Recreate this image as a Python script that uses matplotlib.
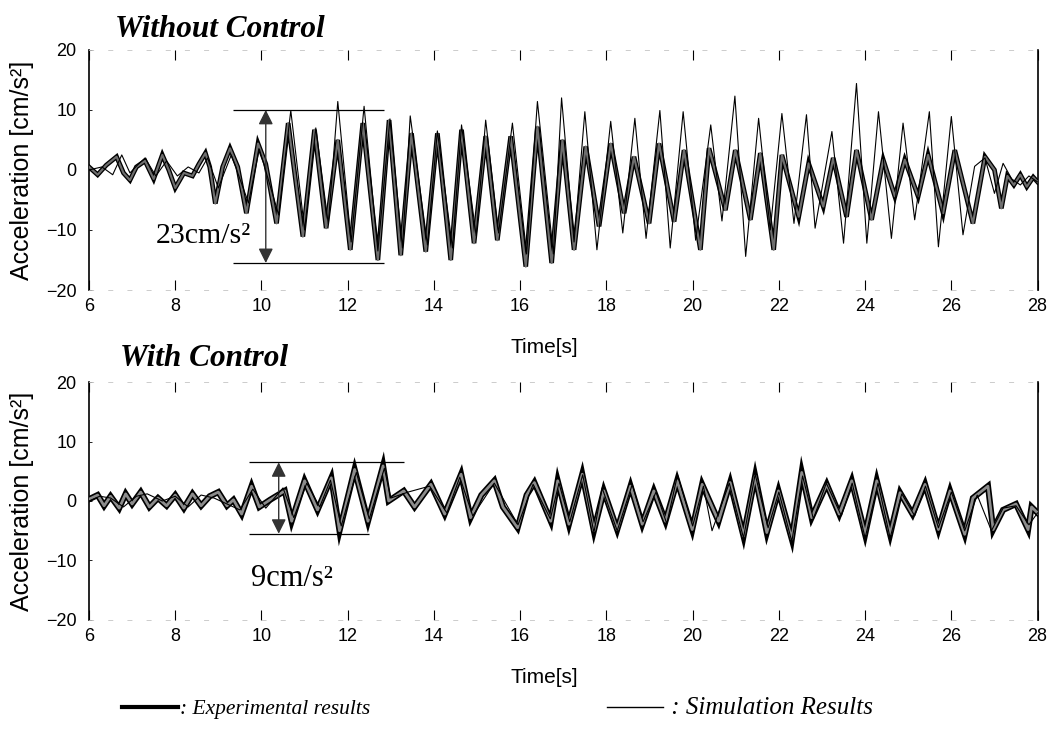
import matplotlib
matplotlib.use("Agg")
import matplotlib.pyplot as plt
from matplotlib import font_manager
from matplotlib.lines import Line2D

# valores (tiempo [s], aceleracion [cm/s^2])
t_exp_sin = [6.0, 6.2, 6.4, 6.64, 6.8, 6.95, 7.1, 7.3, 7.5, 7.7, 7.85, 8.0, 8.2, 8.4,
             8.55, 8.7, 8.8, 8.93, 9.1, 9.27, 9.45, 9.65, 9.92, 10.1, 10.35, 10.62,
             10.96, 11.23, 11.5, 11.77, 12.06, 12.35, 12.7, 12.96, 13.23, 13.48, 13.81,
             14.08, 14.39, 14.64, 14.93, 15.2, 15.47, 15.78, 16.13, 16.4, 16.73, 16.98,
             17.25, 17.52, 17.83, 18.1, 18.41, 18.64, 18.99, 19.22, 19.57, 19.8, 20.18,
             20.38, 20.76, 20.99, 21.34, 21.57, 21.88, 22.07, 22.46, 22.69, 23.03, 23.26,
             23.57, 23.8, 24.15, 24.42, 24.69, 24.92, 25.23, 25.46, 25.81, 26.08, 26.5,
             26.78, 27.0, 27.16, 27.3, 27.45, 27.6, 27.75, 27.9, 28.0]
a_exp_sin = [0.5, -0.8, 0.8, 2.2, -0.5, -1.7, 0.5, 1.5, -1.5, 2.5, 0.0, -3.0, -0.5, -1.0,
             1.0, 2.8, 0.5, -5.6, 0.5, 3.6, 0.5, -7.2, 4.4, 1.0, -8.9, 7.8,
             -11.1, 6.7, -9.7, 5.0, -13.3, 7.8, -15.0, 8.3, -14.2, 6.1, -13.6,
             6.1, -15.0, 6.7, -12.2, 5.6, -11.7, 5.6, -16.1, 7.2, -15.5, 5.0,
             -13.3, 3.9, -9.4, 4.4, -7.2, 2.2, -8.9, 4.4, -8.6, 3.3, -13.3,
             3.6, -6.7, 3.3, -8.3, 2.8, -13.3, 2.5, -7.8, 1.1, -6.1, 2.0,
             -7.8, 3.3, -8.3, 1.7, -4.4, 1.7, -4.4, 2.5, -7.2, 3.3, -8.9,
             2.2, 0.0, -6.4, -1.0, -2.5, -0.8, -2.8, -1.2, -2.0]

t_sim_sin = [6.0, 6.3, 6.55, 6.76, 6.95, 7.15, 7.3, 7.55, 7.8, 8.05, 8.3, 8.55, 8.75,
             9.0, 9.3, 9.7, 9.95, 10.4, 10.68, 11.0, 11.26, 11.55, 11.77, 12.08, 12.38,
             12.7, 12.98, 13.27, 13.45, 13.85, 14.08, 14.43, 14.64, 14.98, 15.2, 15.5,
             15.82, 16.15, 16.4, 16.77, 16.96, 17.25, 17.5, 17.78, 18.1, 18.38, 18.66,
             18.92, 19.24, 19.48, 19.78, 20.07, 20.42, 20.68, 20.98, 21.23, 21.53, 21.8,
             22.07, 22.35, 22.64, 22.84, 23.23, 23.5, 23.8, 24.04, 24.31, 24.61, 24.88,
             25.15, 25.49, 25.7, 26.0, 26.27, 26.54, 26.78, 27.0, 27.2, 27.4, 27.6,
             27.8, 28.0]
a_sim_sin = [0.0, 0.5, -0.8, 2.5, -0.5, 1.0, 2.0, -1.0, 1.5, -1.0, 0.5, -0.5, 2.0,
             -3.0, 2.5, -5.5, 3.5, -7.5, 9.9, -10.0, 7.0, -9.0, 11.4, -12.0, 10.6,
             -13.5, 8.5, -13.0, 9.0, -12.5, 6.5, -13.0, 7.5, -11.0, 8.3, -10.5,
             7.8, -14.0, 11.4, -14.0, 12.0, -12.0, 9.7, -13.3, 8.1, -10.5, 8.6,
             -11.4, 9.9, -13.0, 9.7, -11.7, 7.5, -8.5, 12.3, -14.4, 8.6, -10.0,
             9.4, -8.9, 9.2, -9.7, 6.4, -12.2, 14.4, -12.2, 9.7, -11.4, 7.8,
             -8.3, 9.7, -12.8, 8.9, -10.8, 0.6, 2.0, -3.9, 1.1, -1.5, -2.5,
             -1.0, -2.0]

t_exp_con = [6.0, 6.2, 6.35, 6.5, 6.7, 6.85, 7.0, 7.2, 7.4, 7.6, 7.8, 8.0, 8.2, 8.4,
             8.6, 8.8, 9.0, 9.2, 9.35, 9.54, 9.77, 9.95, 10.2, 10.54, 10.7, 11.0, 11.3,
             11.62, 11.81, 12.16, 12.47, 12.82, 12.95, 13.3, 13.55, 13.93, 14.25, 14.63,
             14.85, 15.1, 15.4, 15.6, 15.94, 16.15, 16.33, 16.71, 16.87, 17.13, 17.44,
             17.71, 17.94, 18.25, 18.56, 18.83, 19.1, 19.37, 19.64, 19.99, 20.22, 20.6,
             20.87, 21.18, 21.45, 21.72, 21.99, 22.3, 22.53, 22.76, 23.11, 23.4, 23.69,
             24.0, 24.27, 24.58, 24.81, 25.1, 25.39, 25.7, 25.97, 26.31, 26.5, 26.85,
             26.97, 27.2, 27.5, 27.78, 27.86, 28.0]
a_exp_con = [0.3, 1.0, -0.8, 0.8, -1.2, 1.2, -0.5, 1.5, -1.0, 0.5, -0.8, 1.0, -1.2, 1.2,
             -0.8, 0.8, 1.5, -0.8, 0.2, -2.2, 2.5, -1.0, 0.2, 1.7, -3.4, 3.4, -1.5,
             3.9, -5.0, 5.3, -3.4, 5.9, 0.0, 1.7, -1.0, 2.8, -2.2, 4.5,
             -2.8, 1.0, 3.4, -1.0, -4.5, 1.0, 3.1, -3.4, 3.4, -3.9, 4.5,
             -5.0, 1.7, -4.8, 2.5, -3.9, 1.7, -3.4, 3.4, -4.8, 2.8, -3.4,
             3.1, -5.9, 4.2, -5.3, 1.7, -6.4, 4.8, -2.8, 2.8, -2.2, 3.4,
             -5.6, 3.4, -5.6, 1.4, -2.2, 2.8, -4.8, 1.7, -5.6, 0.5, 2.5,
             -4.8, -1.5, -0.5, -4.8, -1.0, -2.0]

t_sim_con = [6.0, 6.25, 6.5, 6.8, 7.1, 7.35, 7.7, 8.0, 8.3, 8.6, 8.9, 9.2, 9.5, 9.8,
             10.1, 10.5, 10.75, 11.05, 11.35, 11.6, 11.85, 12.2, 12.5, 12.85, 13.0,
             13.4, 13.9, 14.3, 14.6, 14.9, 15.4, 15.95, 16.3, 16.7, 16.9, 17.15, 17.45,
             17.71, 17.9, 18.25, 18.6, 18.85, 19.15, 19.4, 19.65, 20.0, 20.25, 20.45,
             20.85, 21.18, 21.45, 21.75, 22.0, 22.3, 22.55, 22.8, 23.1, 23.45, 23.7,
             24.0, 24.3, 24.58, 24.85, 25.15, 25.4, 25.7, 26.0, 26.31, 26.6, 26.93,
             27.2, 27.5, 27.8, 28.0]
a_sim_con = [0.0, 0.8, 0.5, -1.0, 0.8, 1.2, 0.0, 0.8, -1.0, 1.0, 0.5, -0.5, -1.5, 2.0,
             -1.2, 2.2, -2.8, 3.0, -1.0, 3.5, -4.2, 4.8, -3.0, 5.5, 0.5,
             1.5, 2.5, -2.0, 4.0, -2.5, 3.0, -4.0, 2.8, -3.0, 3.0, -3.5, 4.4,
             -5.3, 2.2, -5.0, 2.8, -3.5, 1.5, -3.8, 4.4, -4.2, 2.5, -5.0,
             3.0, -6.2, 4.5, -4.5, 1.5, -6.8, 4.2, -3.0, 3.0, -2.5, 3.0,
             -6.2, 3.0, -6.2, 1.2, -2.5, 2.5, -4.5, 1.5, -5.0, 1.0, -5.0,
             -1.2, -0.8, -4.0, -2.0]

xticks = [6, 8, 10, 12, 14, 16, 18, 20, 22, 24, 26, 28]
yticks = [-20, -10, 0, 10, 20]

nombres = {f.name for f in font_manager.fontManager.ttflist}
fuente_tick = "Liberation Sans Narrow" if "Liberation Sans Narrow" in nombres else "Liberation Sans"
serif = "Liberation Serif"


def configurarEje(ax):
    ax.set_xlim(6, 28)
    ax.set_ylim(-20, 20)
    ax.set_xticks(xticks)
    ax.set_yticks(yticks)
    ax.tick_params(axis="x", direction="in", length=7, width=0.8, top=True,
                   pad=6, labelsize=13)
    ax.tick_params(axis="y", direction="in", length=2, width=0.6, pad=9,
                   labelsize=13)
    for lab in ax.get_xticklabels() + ax.get_yticklabels():
        lab.set_family(fuente_tick)
    ax.spines["left"].set_linewidth(1.2)
    ax.spines["right"].set_linewidth(1.2)
    for s in ["top", "bottom"]:
        ax.spines[s].set_linestyle((0, (5, 18)))
        ax.spines[s].set_color("#c4c4c4")
        ax.spines[s].set_linewidth(0.6)
    ax.set_xlabel("Time[s]", fontsize=15, family="Liberation Sans")
    ax.xaxis.set_label_coords(0.48, -0.2)
    ax.set_ylabel("Acceleration [cm/s²]", fontsize=18, family="Liberation Sans")
    ax.yaxis.set_label_coords(-0.058, 0.5)


def graficarSerie(ax, t_exp, a_exp, t_sim, a_sim, gris, grosor):
    ax.plot(t_exp, a_exp, color="black", lw=grosor, solid_joinstyle="miter", zorder=2)
    ax.plot(t_exp, a_exp, color=gris, lw=grosor * 0.45, zorder=3)
    ax.plot(t_sim, a_sim, color="black", lw=0.8, zorder=4)


fig = plt.figure(figsize=(10.47, 7.30), dpi=100)
ax1 = fig.add_axes([0.085, 0.6027, 0.906, 0.329])
ax2 = fig.add_axes([0.085, 0.1507, 0.906, 0.326])

graficarSerie(ax1, t_exp_sin, a_exp_sin, t_sim_sin, a_sim_sin, "#6e6e6e", 3.4)
graficarSerie(ax2, t_exp_con, a_exp_con, t_sim_con, a_sim_con, "#8c8c8c", 4.4)
configurarEje(ax1)
configurarEje(ax2)

ax1.text(0.027, 1.083, "Without Control", transform=ax1.transAxes, fontsize=22.5,
         family=serif, style="italic", weight="bold", va="center")
ax2.text(0.033, 1.10, "With Control", transform=ax2.transAxes, fontsize=22.5,
         family=serif, style="italic", weight="bold", va="center")

# rango pico a pico
ax1.hlines([10, -15.5], [9.35, 9.35], [12.85, 12.85], color="black", lw=0.9)
ax1.annotate("", xy=(10.1, 10), xytext=(10.1, -15.5),
             arrowprops=dict(arrowstyle="<|-|>", color="#333333", lw=1.0,
                             mutation_scale=22, shrinkA=0, shrinkB=0))
ax1.text(9.75, -11, "23cm/s²", fontsize=21.5, family=serif, ha="right", va="center")

ax2.hlines([6.5, -5.5], [9.7, 9.7], [13.3, 12.5], color="black", lw=0.9)
ax2.annotate("", xy=(10.4, 6.5), xytext=(10.4, -5.5),
             arrowprops=dict(arrowstyle="<|-|>", color="#333333", lw=1.0,
                             mutation_scale=22, shrinkA=0, shrinkB=0))
ax2.text(10.7, -13, "9cm/s²", fontsize=22, family=serif, ha="center", va="center")

h_exp = Line2D([], [], color="black", lw=3)
h_sim = Line2D([], [], color="black", lw=1)
leyenda = fig.legend([h_exp, h_sim], [": Experimental results", " : Simulation Results"],
                     loc="center", bbox_to_anchor=(0.475, 0.03), ncol=2, frameon=False,
                     handlelength=2.6, handletextpad=0.1, columnspacing=11.0,
                     prop={"family": serif, "style": "italic", "size": 15.5})
leyenda.get_texts()[1].set_fontsize(18)

fig.savefig("out.png", dpi=100)
